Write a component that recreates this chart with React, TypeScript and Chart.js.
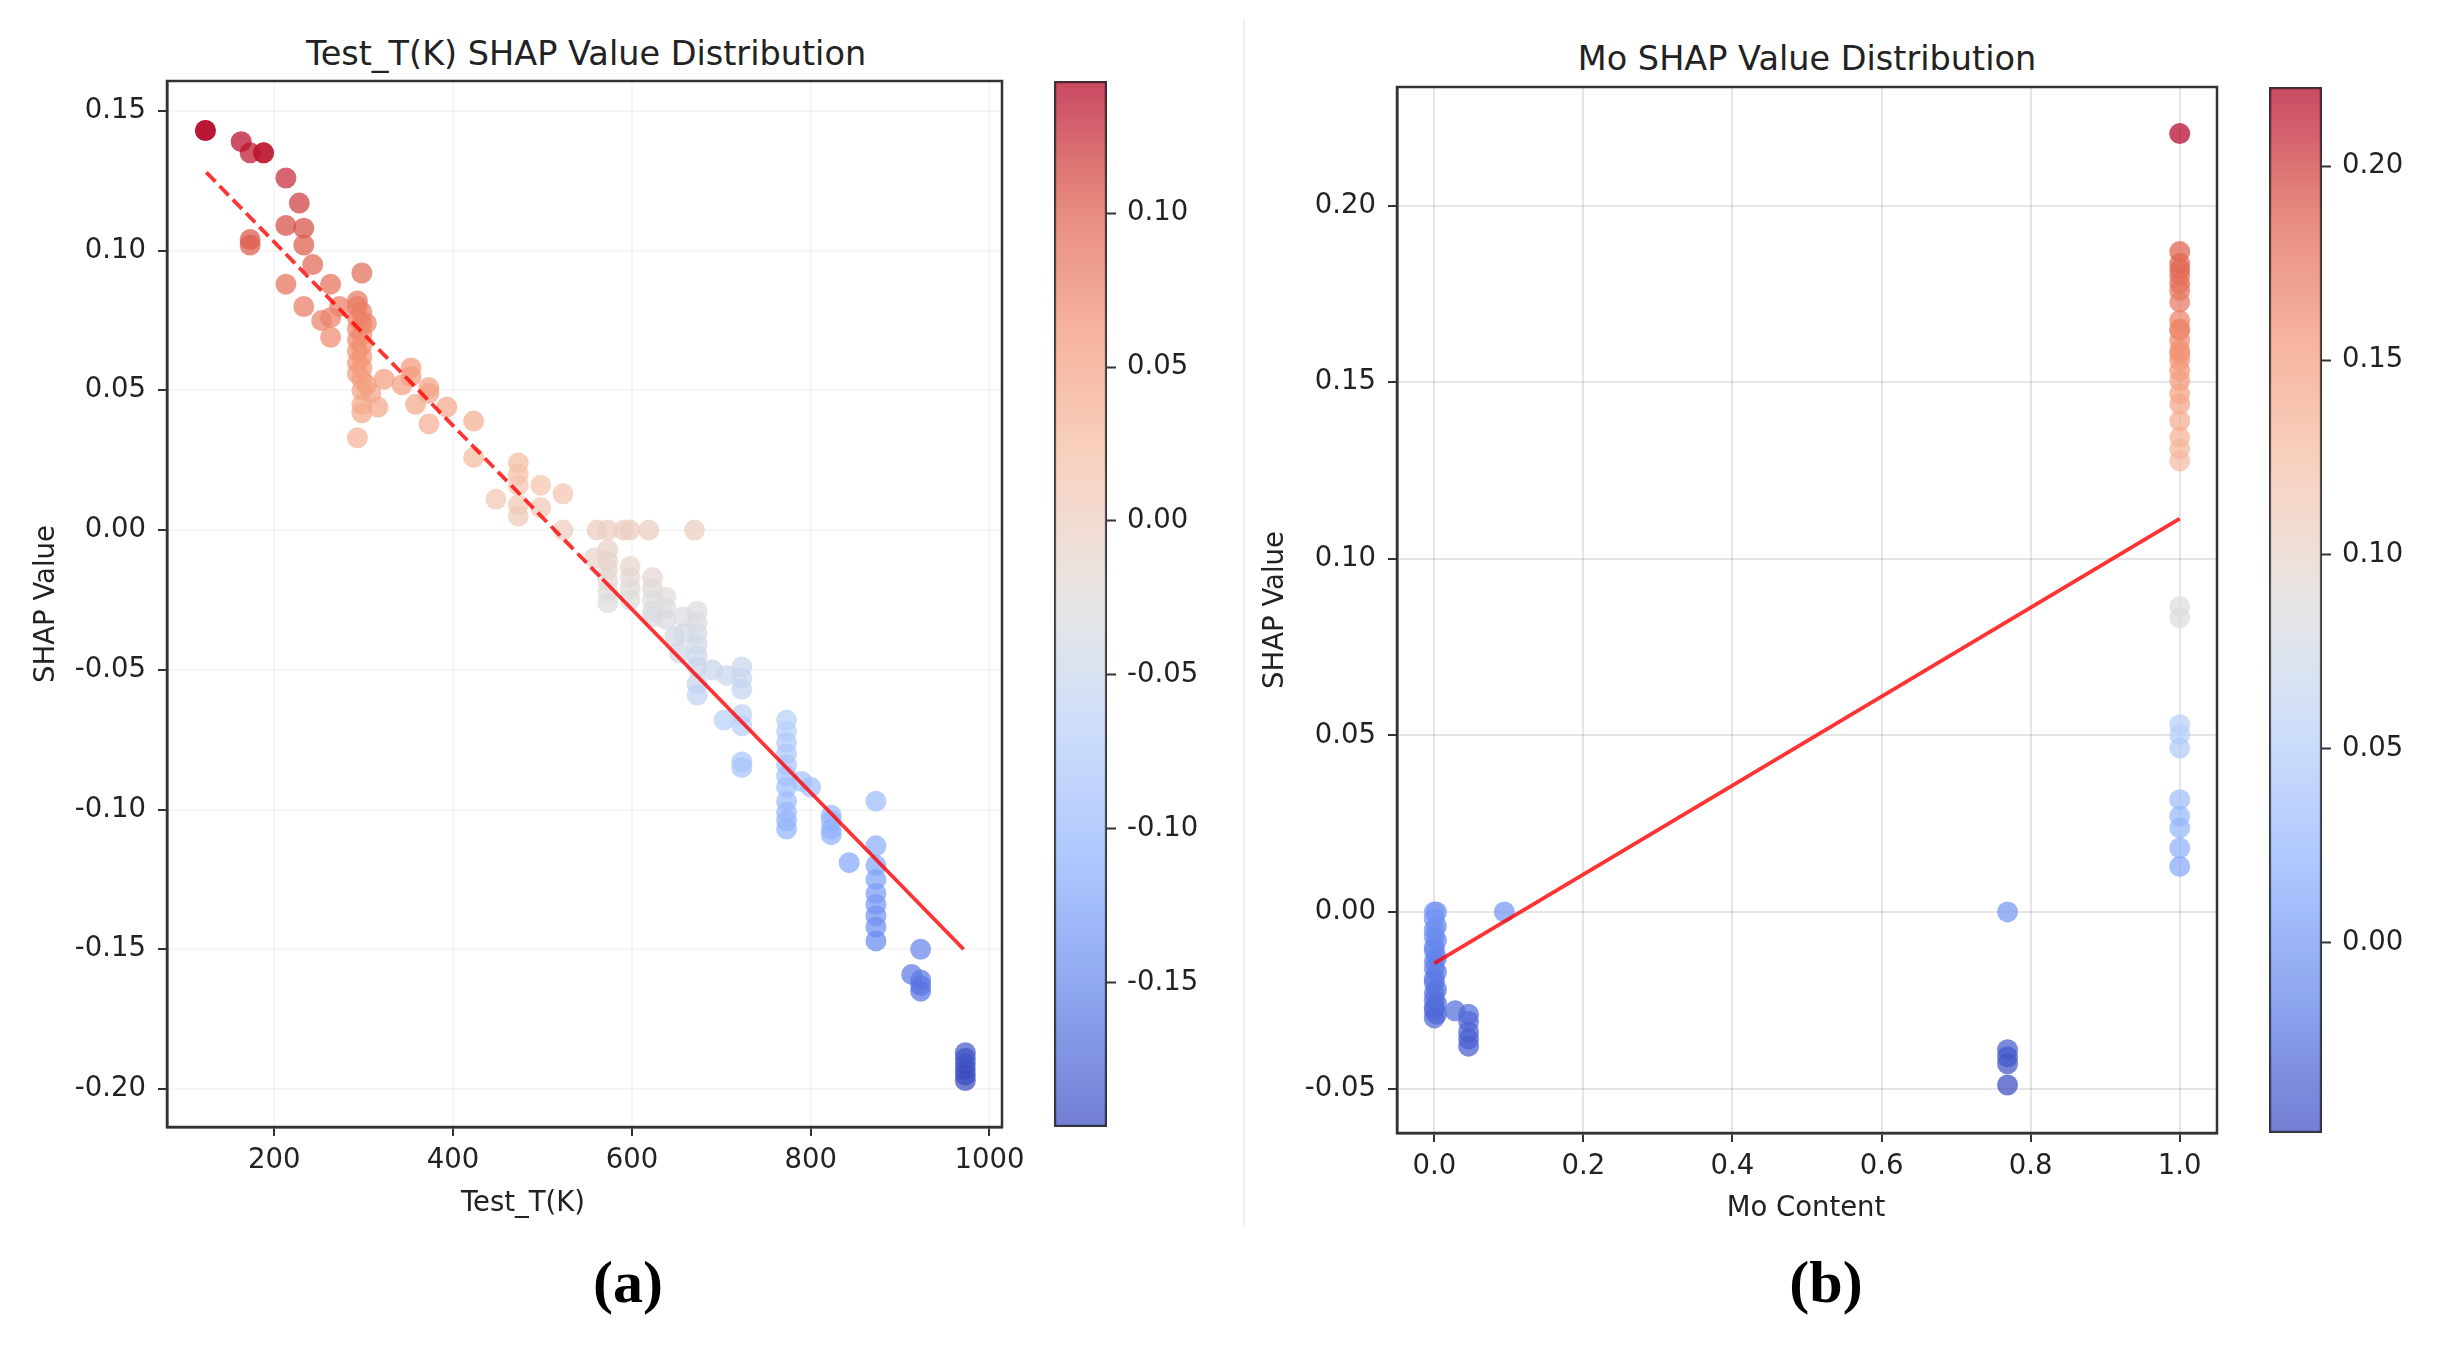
import { useEffect, useRef } from "react"
import { Chart, registerables } from "chart.js"

Chart.register(...registerables)
Chart.defaults.font.family = "'DejaVu Sans', sans-serif"
Chart.defaults.color = "#222"

// ---- panel (a): Test_T(K) ----
const tempX = [
  123, 123, 163, 173, 188, 188, 213, 228, 213, 233, 173, 173, 233, 243, 298, 213, 263, 233, 273, 253, 263, 263,
  293, 293, 298, 293, 298, 303, 293, 298, 293, 298, 293, 298, 293, 298, 293, 298, 303, 298, 308,
  298, 298, 316, 293, 323, 343, 353, 353, 373, 373, 358, 373, 393, 423, 423,
  448, 473, 473, 473, 473, 473, 498, 498, 523, 523,
  561, 573, 591, 598, 619, 670,
  558, 573, 573, 573, 573, 573, 573, 598, 598, 598, 598, 623, 623, 623, 623, 623,
  638, 638, 638, 658, 658, 648, 653,
  673, 673, 673, 673, 673, 673, 673, 673, 690, 706, 723, 723, 723, 703, 723, 723, 723, 723,
  773, 773, 773, 773, 773, 773, 773, 773, 773, 773, 773, 790, 800,
  823, 823, 823, 823, 843, 873, 873, 873, 873, 873, 873, 873, 873, 873,
  923, 913, 923, 923, 923, 973, 973, 973, 973, 973, 973,
]
const tempShap = [
  0.143, 0.143, 0.139, 0.135, 0.135, 0.135, 0.126, 0.117, 0.109, 0.108, 0.104, 0.102, 0.102, 0.095, 0.092, 0.088, 0.088, 0.08, 0.08, 0.075, 0.076, 0.069,
  0.082, 0.08, 0.078, 0.076, 0.074, 0.074, 0.072, 0.07, 0.068, 0.066, 0.064, 0.062, 0.06, 0.058, 0.056, 0.054, 0.052, 0.05, 0.049,
  0.045, 0.042, 0.044, 0.033, 0.054, 0.052, 0.058, 0.055, 0.051, 0.049, 0.045, 0.038, 0.044, 0.039, 0.026,
  0.011, 0.024, 0.02, 0.016, 0.009, 0.005, 0.016, 0.008, 0.013, 0.0,
  0.0, 0.0, 0.0, 0.0, 0.0, 0.0,
  -0.01, -0.007, -0.011, -0.014, -0.018, -0.022, -0.026, -0.013, -0.017, -0.021, -0.025, -0.017, -0.021, -0.025, -0.029, -0.031,
  -0.024, -0.028, -0.032, -0.031, -0.037, -0.038, -0.044,
  -0.029, -0.033, -0.037, -0.041, -0.045, -0.049, -0.055, -0.059, -0.05, -0.052, -0.049, -0.053, -0.057, -0.068, -0.066, -0.07, -0.083, -0.085,
  -0.068, -0.072, -0.076, -0.08, -0.084, -0.088, -0.092, -0.097, -0.101, -0.104, -0.107, -0.09, -0.092,
  -0.102, -0.104, -0.107, -0.109, -0.119, -0.097, -0.113, -0.12, -0.125, -0.13, -0.134, -0.138, -0.142, -0.147,
  -0.15, -0.159, -0.161, -0.163, -0.165, -0.187, -0.189, -0.191, -0.193, -0.195, -0.197,
]
const tempFitX = [124, 567, 971]
const tempFitY = [0.128, -0.0175, -0.15]
const tempXTicks = [200, 400, 600, 800, 1000]
const tempYTicks = [-0.2, -0.15, -0.1, -0.05, 0, 0.05, 0.1, 0.15]
const tempCbTicks = [-0.15, -0.1, -0.05, 0, 0.05, 0.1]

// ---- panel (b): Mo content ----
const moX = [
  0, 0.003, 0, 0.003, 0, 0, 0.003, 0, 0, 0.003, 0, 0, 0.003, 0, 0, 0.003, 0, 0, 0.003, 0, 0, 0.003, 0,
  0.094, 0.028, 0.046, 0.046, 0.046, 0.046, 0.046,
  0.769, 0.769, 0.769, 0.769, 0.769,
  1, 1, 1, 1, 1, 1, 1, 1, 1, 1, 1, 1, 1, 1, 1, 1, 1, 1, 1, 1, 1, 1, 1,
  1, 1, 1, 1, 1, 1, 1, 1, 1, 1,
]
const moShap = [
  0.0, 0.0, -0.002, -0.004, -0.005, -0.007, -0.008, -0.01, -0.011, -0.013, -0.014, -0.016, -0.017, -0.019, -0.02, -0.022, -0.023, -0.025, -0.026, -0.027, -0.028, -0.029, -0.03,
  0.0, -0.028, -0.029, -0.031, -0.034, -0.036, -0.038,
  0.0, -0.039, -0.041, -0.043, -0.049,
  0.2204, 0.187, 0.1836, 0.182, 0.1803, 0.178, 0.176, 0.1727, 0.1675, 0.165, 0.1647, 0.1618, 0.159, 0.158, 0.1562, 0.1533, 0.1505, 0.1467, 0.1438, 0.1391, 0.1344, 0.1311, 0.1277,
  0.0865, 0.0832, 0.053, 0.0502, 0.0464, 0.0318, 0.0271, 0.0238, 0.0181, 0.0129,
]
const moFitX = [0, 1]
const moFitY = [-0.0146, 0.1114]
const moXTicks = [0, 0.2, 0.4, 0.6, 0.8, 1.0]
const moYTicks = [-0.05, 0, 0.05, 0.1, 0.15, 0.2]
const moCbTicks = [0, 0.05, 0.1, 0.15, 0.2]

// matplotlib "coolwarm" sampled at 9 points
const coolwarmStops = [
  [59, 76, 192], [98, 130, 234], [141, 176, 254], [184, 208, 249], [221, 221, 221],
  [245, 196, 173], [244, 154, 123], [222, 96, 77], [180, 4, 38],
]
const ALPHA = 0.72

function coolwarm(t: number, a = ALPHA) {
  const c = Math.max(0, Math.min(1, t)) * 8
  const i = Math.min(7, Math.floor(c))
  const f = c - i
  const p = coolwarmStops[i], q = coolwarmStops[i + 1]
  const rgb = p.map((v, k) => Math.round(v + (q[k] - v) * f))
  return `rgba(${rgb[0]},${rgb[1]},${rgb[2]},${a})`
}

const FONT = 27.5
const CANVAS_H = 1250

type PanelProps = {
  xs: number[]
  ys: number[]
  fitX: number[]
  fitY: number[]
  dashedSegs: number
  xMin: number
  xMax: number
  yMin: number
  yMax: number
  xTicks: number[]
  yTicks: number[]
  xDec: number
  gridColor: string
  left: number
  width: number
  areaLeft: number
  areaRight: number
  areaTop: number
  areaBottom: number
  yTitlePad: number
}

function ScatterPanel(p: PanelProps) {
  const chartRef = useRef<HTMLCanvasElement>(null)

  useEffect(() => {
    if (!chartRef.current) return
    const vmin = Math.min(...p.ys)
    const vmax = Math.max(...p.ys)
    const colors = p.ys.map((v) => coolwarm((v - vmin) / (vmax - vmin)))

    const frame = {
      id: "frame",
      afterDraw(chart: any) {
        const { ctx, chartArea: a } = chart
        ctx.save()
        ctx.strokeStyle = "#333"
        ctx.lineWidth = 2.5
        ctx.strokeRect(a.left, a.top, a.right - a.left, a.bottom - a.top)
        ctx.restore()
      },
    }

    const chart = new Chart(chartRef.current, {
      type: "scatter",
      data: {
        datasets: [
          {
            type: "line",
            data: p.fitX.map((x, i) => ({ x, y: p.fitY[i] })),
            borderColor: "rgba(255,0,0,0.8)",
            borderWidth: 3.8,
            pointRadius: 0,
            fill: false,
            segment: {
              borderDash: (ctx: any) => (ctx.p0DataIndex < p.dashedSegs ? [13, 6] : undefined),
            },
          } as any,
          {
            data: p.xs.map((x, i) => ({ x, y: p.ys[i] })),
            backgroundColor: colors,
            borderWidth: 0,
            pointRadius: 10.5,
          },
        ],
      },
      options: {
        animation: false,
        responsive: false,
        layout: {
          padding: {
            top: p.areaTop,
            left: 0,
            right: p.left + p.width - p.areaRight,
            bottom: CANVAS_H - p.areaBottom - 60,
          },
        },
        scales: {
          x: {
            type: "linear",
            min: p.xMin,
            max: p.xMax,
            afterBuildTicks: (s: any) => {
              s.ticks = p.xTicks.map((v) => ({ value: v }))
            },
            afterFit: (s: any) => {
              s.height = 60
              s.paddingLeft = 0
              s.paddingRight = 0
            },
            grid: { color: p.gridColor, lineWidth: 2, tickColor: "#333", tickWidth: 2, tickLength: 9 },
            border: { color: "#333", width: 2.5 },
            ticks: {
              font: { size: FONT },
              padding: 8.5,
              maxRotation: 0,
              autoSkip: false,
              callback: (v: any) => Number(v).toFixed(p.xDec),
            },
          },
          y: {
            type: "linear",
            min: p.yMin,
            max: p.yMax,
            afterBuildTicks: (s: any) => {
              s.ticks = p.yTicks.map((v) => ({ value: v }))
            },
            afterFit: (s: any) => {
              s.width = p.areaLeft - p.left
              s.paddingTop = 0
              s.paddingBottom = 0
            },
            grid: { color: p.gridColor, lineWidth: 2, tickColor: "#333", tickWidth: 2, tickLength: 9 },
            border: { color: "#333", width: 2.5 },
            ticks: {
              font: { size: FONT },
              padding: 12,
              autoSkip: false,
              callback: (v: any) => Number(v).toFixed(2),
            },
            title: {
              display: true,
              text: "SHAP Value",
              font: { size: FONT },
              padding: { top: p.yTitlePad, bottom: 0 },
            },
          },
        },
        plugins: {
          legend: { display: false },
          tooltip: { enabled: false },
        },
      },
      plugins: [frame],
    })

    return () => chart.destroy()
  }, [])

  return (
    <canvas
      ref={chartRef}
      width={p.width}
      height={CANVAS_H}
      style={{ position: "absolute", left: p.left, top: 0 }}
    ></canvas>
  )
}

type BarProps = {
  values: number[]
  ticks: number[]
  left: number
  width: number
  barWidth: number
  areaTop: number
  areaBottom: number
}

function ColorBar(p: BarProps) {
  const chartRef = useRef<HTMLCanvasElement>(null)

  useEffect(() => {
    if (!chartRef.current) return
    const vmin = Math.min(...p.values)
    const vmax = Math.max(...p.values)

    const chart = new Chart(chartRef.current, {
      type: "bar",
      data: {
        labels: [""],
        datasets: [
          {
            data: [[vmin, vmax]],
            backgroundColor: (ctx: any) => {
              const a = ctx.chart.chartArea
              if (!a) return "transparent"
              const g = ctx.chart.ctx.createLinearGradient(0, a.bottom, 0, a.top)
              for (let i = 0; i <= 32; i++) g.addColorStop(i / 32, coolwarm(i / 32))
              return g
            },
            borderColor: "#333",
            borderWidth: 2,
            borderSkipped: false,
            barPercentage: 1,
            categoryPercentage: 1,
          },
        ],
      },
      options: {
        animation: false,
        responsive: false,
        layout: {
          padding: { top: p.areaTop, bottom: CANVAS_H - p.areaBottom, left: 0, right: 0 },
        },
        scales: {
          x: { display: false },
          y: {
            position: "right",
            min: vmin,
            max: vmax,
            afterBuildTicks: (s: any) => {
              s.ticks = p.ticks.map((v) => ({ value: v }))
            },
            afterFit: (s: any) => {
              s.width = p.width - p.barWidth
              s.paddingTop = 0
              s.paddingBottom = 0
            },
            grid: { drawOnChartArea: false, tickColor: "#333", tickWidth: 2, tickLength: 9 },
            border: { display: false },
            ticks: {
              font: { size: FONT },
              padding: 11,
              autoSkip: false,
              callback: (v: any) => Number(v).toFixed(2),
            },
          },
        },
        plugins: {
          legend: { display: false },
          tooltip: { enabled: false },
        },
      },
    })

    return () => chart.destroy()
  }, [])

  return (
    <canvas
      ref={chartRef}
      width={p.width}
      height={CANVAS_H}
      style={{ position: "absolute", left: p.left, top: 0 }}
    ></canvas>
  )
}

function Label(props: { cx: number; cy: number; size: number; text: string; serif?: boolean }) {
  const h = Math.round(props.size * 1.4)
  return (
    <div
      style={{
        position: "absolute",
        left: props.cx - 600,
        width: 1200,
        top: props.cy - h / 2,
        height: h,
        lineHeight: `${h}px`,
        textAlign: "center",
        fontSize: props.size,
        whiteSpace: "nowrap",
        fontFamily: props.serif ? "'Liberation Serif', serif" : "'DejaVu Sans', sans-serif",
        fontWeight: props.serif ? "bold" : "normal",
        color: props.serif ? "#000" : "#222",
      }}
    >
      {props.text}
    </div>
  )
}

export default function App() {
  return (
    <div
      style={{
        position: "absolute",
        left: 0,
        top: 0,
        width: 2439,
        height: 1348,
        background: "#fff",
        overflow: "hidden",
      }}
    >
      <Label cx={586} cy={53} size={33.5} text="Test_T(K) SHAP Value Distribution" />
      <Label cx={1807} cy={58} size={33.5} text="Mo SHAP Value Distribution" />

      <ScatterPanel
        xs={tempX}
        ys={tempShap}
        fitX={tempFitX}
        fitY={tempFitY}
        dashedSegs={1}
        xMin={80}
        xMax={1014}
        yMin={-0.2136}
        yMax={0.1607}
        xTicks={tempXTicks}
        yTicks={tempYTicks}
        xDec={0}
        gridColor="rgba(0,0,0,0.035)"
        left={0}
        width={1040}
        areaLeft={167}
        areaRight={1002}
        areaTop={81}
        areaBottom={1127}
        yTitlePad={30.5}
      />
      <ColorBar values={tempShap} ticks={tempCbTicks} left={1054} width={190} barWidth={53} areaTop={81} areaBottom={1127} />

      <ScatterPanel
        xs={moX}
        ys={moShap}
        fitX={moFitX}
        fitY={moFitY}
        dashedSegs={0}
        xMin={-0.05}
        xMax={1.05}
        yMin={-0.0626}
        yMax={0.2336}
        xTicks={moXTicks}
        yTicks={moYTicks}
        xDec={1}
        gridColor="rgba(0,0,0,0.1)"
        left={1250}
        width={1010}
        areaLeft={1397}
        areaRight={2217}
        areaTop={87}
        areaBottom={1133}
        yTitlePad={9.5}
      />
      <ColorBar values={moShap} ticks={moCbTicks} left={2269} width={170} barWidth={53} areaTop={87} areaBottom={1133} />

      <Label cx={523} cy={1201} size={FONT} text="Test_T(K)" />
      <Label cx={1806} cy={1206} size={FONT} text="Mo Content" />

      <div style={{ position: "absolute", left: 1243, top: 19, width: 2, height: 1208, background: "#eee" }} />

      <Label cx={628} cy={1282} size={60} text="(a)" serif />
      <Label cx={1826} cy={1282} size={60} text="(b)" serif />
    </div>
  )
}
